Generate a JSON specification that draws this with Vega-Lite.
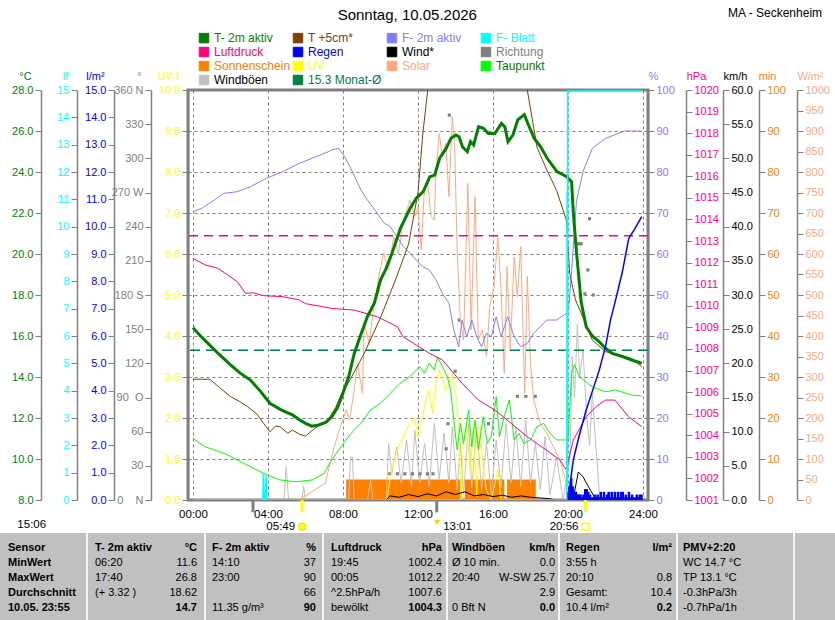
{
  "$schema": "https://vega.github.io/schema/vega-lite/v6.json",
  "width": 460,
  "height": 410,
  "autosize": {"type": "none"},
  "padding": {"left": 188, "top": 90, "right": 187, "bottom": 120},
  "background": "white",
  "config": {
    "view": {"stroke": "#808080", "strokeWidth": 3},
    "font": "Liberation Sans",
    "axis": {"labelFont": "Liberation Sans", "labelFontSize": 11, "titleFont": "Liberation Sans", "titleFontSize": 11, "titleFontWeight": "normal", "domainColor": "#808080", "domainWidth": 1.5, "tickColor": "#808080", "tickSize": 6, "labelPadding": 2, "grid": false, "titleAngle": 0, "titleAlign": "center", "titleBaseline": "alphabetic", "titleY": -11, "labelOverlap": false, "labelBound": false, "labelFlush": false}
  },
  "datasets": {
    "t2m": [{"h":0,"v":16.4},{"h":0.4,"v":16.0},{"h":0.8,"v":15.64},{"h":1.4,"v":15.1},{"h":2.0,"v":14.59},{"h":2.5,"v":14.2},{"h":3.06,"v":13.85},{"h":3.6,"v":13.3},{"h":4.1,"v":12.72},{"h":4.7,"v":12.4},{"h":5.3,"v":12.15},{"h":5.7,"v":11.9},{"h":6.0,"v":11.74},{"h":6.33,"v":11.6},{"h":6.7,"v":11.66},{"h":7.1,"v":11.8},{"h":7.4,"v":12.06},{"h":7.7,"v":12.5},{"h":7.93,"v":13.04},{"h":8.3,"v":14.0},{"h":8.6,"v":15.15},{"h":9.0,"v":16.2},{"h":9.3,"v":16.94},{"h":9.67,"v":17.6},{"h":10.0,"v":18.73},{"h":10.3,"v":19.3},{"h":10.6,"v":20.0},{"h":11.06,"v":21.25},{"h":11.3,"v":21.7},{"h":11.58,"v":22.23},{"h":11.91,"v":22.72},{"h":12.28,"v":23.04},{"h":12.63,"v":23.77},{"h":12.89,"v":23.85},{"h":13.15,"v":24.67},{"h":13.5,"v":25.15},{"h":13.76,"v":25.64},{"h":14.02,"v":25.8},{"h":14.19,"v":25.72},{"h":14.37,"v":25.23},{"h":14.63,"v":24.99},{"h":14.8,"v":25.48},{"h":14.97,"v":25.32},{"h":15.23,"v":26.21},{"h":15.49,"v":26.13},{"h":15.75,"v":25.88},{"h":16.1,"v":25.88},{"h":16.45,"v":26.37},{"h":16.63,"v":26.21},{"h":16.8,"v":25.48},{"h":17.06,"v":25.8},{"h":17.32,"v":26.54},{"h":17.67,"v":26.8},{"h":17.93,"v":26.21},{"h":18.2,"v":25.64},{"h":18.54,"v":25.23},{"h":18.89,"v":24.67},{"h":19.41,"v":24.02},{"h":19.93,"v":23.77},{"h":20.19,"v":23.53},{"h":20.28,"v":22.06},{"h":20.45,"v":20.11},{"h":20.7,"v":17.67},{"h":20.97,"v":16.45},{"h":21.3,"v":16.0},{"h":21.67,"v":15.72},{"h":22.0,"v":15.4},{"h":22.36,"v":15.15},{"h":22.9,"v":15.0},{"h":23.4,"v":14.83},{"h":23.93,"v":14.67}],
    "t5": [{"h":0,"v":13.89},{"h":0.9,"v":13.89},{"h":1.4,"v":13.5},{"h":2.0,"v":13.04},{"h":2.5,"v":12.8},{"h":2.9,"v":12.56},{"h":3.4,"v":12.2},{"h":3.76,"v":11.74},{"h":4.1,"v":11.33},{"h":4.4,"v":11.6},{"h":4.63,"v":11.58},{"h":5.06,"v":11.25},{"h":5.3,"v":11.41},{"h":5.7,"v":11.2},{"h":6.0,"v":11.12},{"h":6.5,"v":11.5},{"h":7.2,"v":11.9},{"h":7.6,"v":12.5},{"h":7.93,"v":13.2},{"h":8.4,"v":13.9},{"h":9.13,"v":15.15},{"h":10.0,"v":16.9},{"h":10.87,"v":18.9},{"h":11.5,"v":20.5},{"h":12.0,"v":23.0},{"h":12.26,"v":25.9},{"h":12.52,"v":28.0},{"h":12.8,"v":29.5},{"h":13.5,"v":31.5},{"h":15.0,"v":32.5},{"h":16.5,"v":31.5},{"h":17.5,"v":29.5},{"h":17.83,"v":28.0},{"h":18.35,"v":25.2},{"h":18.87,"v":24.1},{"h":19.39,"v":23.1},{"h":19.91,"v":21.66},{"h":20.09,"v":19.05},{"h":20.4,"v":17.76},{"h":20.8,"v":16.9},{"h":21.3,"v":15.8},{"h":22.0,"v":15.24},{"h":22.5,"v":15.1},{"h":23.0,"v":15.0},{"h":23.4,"v":14.9},{"h":23.93,"v":14.5}],
    "rh": [{"h":0,"v":70.3},{"h":0.45,"v":71.1},{"h":1.15,"v":73.2},{"h":1.67,"v":74.8},{"h":2.36,"v":75.2},{"h":3.06,"v":76.4},{"h":3.93,"v":78.5},{"h":4.8,"v":80.1},{"h":5.67,"v":82.1},{"h":6.54,"v":83.7},{"h":7.24,"v":85.0},{"h":7.39,"v":85.4},{"h":7.76,"v":85.8},{"h":8.09,"v":83.7},{"h":8.4,"v":81.0},{"h":8.96,"v":75.6},{"h":9.3,"v":73.2},{"h":9.83,"v":69.9},{"h":10.2,"v":67.5},{"h":10.52,"v":66.7},{"h":10.87,"v":64.2},{"h":11.22,"v":61.8},{"h":11.57,"v":60.2},{"h":11.91,"v":58.5},{"h":12.26,"v":56.9},{"h":12.6,"v":56.1},{"h":12.96,"v":53.7},{"h":13.3,"v":50.4},{"h":13.65,"v":48.0},{"h":13.91,"v":41.5},{"h":14.17,"v":37.4},{"h":14.35,"v":43.9},{"h":14.6,"v":39.8},{"h":14.87,"v":43.9},{"h":15.13,"v":39.8},{"h":15.39,"v":37.4},{"h":15.65,"v":40.7},{"h":15.91,"v":39.8},{"h":16.17,"v":44.7},{"h":16.43,"v":39.8},{"h":16.78,"v":44.7},{"h":17.13,"v":39.8},{"h":17.48,"v":37.4},{"h":17.83,"v":38.2},{"h":18.17,"v":40.7},{"h":18.52,"v":42.3},{"h":18.87,"v":43.9},{"h":19.39,"v":43.9},{"h":19.91,"v":45.5},{"h":20.03,"v":46.3},{"h":20.19,"v":55.7},{"h":20.45,"v":72.8},{"h":20.8,"v":80.1},{"h":21.3,"v":85.8},{"h":22.0,"v":88.2},{"h":23.0,"v":90.0},{"h":23.93,"v":90.0}],
    "p": [{"h":0,"v":1012.2},{"h":0.63,"v":1011.9},{"h":1.32,"v":1011.74},{"h":1.84,"v":1011.43},{"h":2.36,"v":1011.12},{"h":2.8,"v":1010.58},{"h":3.23,"v":1010.6},{"h":3.76,"v":1010.47},{"h":4.8,"v":1010.42},{"h":5.67,"v":1010.27},{"h":6.0,"v":1010.1},{"h":6.9,"v":1009.96},{"h":7.39,"v":1009.88},{"h":8.6,"v":1009.8},{"h":9.83,"v":1009.49},{"h":10.9,"v":1009.03},{"h":11.2,"v":1008.57},{"h":11.76,"v":1008.26},{"h":12.6,"v":1007.8},{"h":13.3,"v":1007.49},{"h":14.35,"v":1006.41},{"h":15.23,"v":1005.63},{"h":16.09,"v":1005.17},{"h":16.97,"v":1004.55},{"h":17.83,"v":1003.93},{"h":18.87,"v":1003.3},{"h":19.57,"v":1002.85},{"h":19.91,"v":1002.4},{"h":20.28,"v":1003.78},{"h":20.97,"v":1004.86},{"h":21.5,"v":1005.33},{"h":22.0,"v":1005.63},{"h":22.5,"v":1005.63},{"h":23.23,"v":1004.86},{"h":23.93,"v":1004.4}],
    "dew": [{"h":0,"v":11.0},{"h":0.63,"v":10.6},{"h":1.67,"v":10.28},{"h":2.7,"v":9.79},{"h":3.76,"v":9.3},{"h":4.63,"v":8.98},{"h":5.5,"v":8.89},{"h":6.37,"v":8.98},{"h":7.0,"v":9.3},{"h":7.39,"v":9.95},{"h":7.9,"v":10.6},{"h":8.43,"v":11.25},{"h":8.96,"v":11.74},{"h":9.48,"v":12.39},{"h":10.0,"v":12.72},{"h":10.52,"v":13.2},{"h":11.04,"v":13.69},{"h":11.57,"v":14.02},{"h":12.09,"v":14.5},{"h":12.35,"v":14.18},{"h":12.6,"v":14.67},{"h":12.87,"v":14.34},{"h":13.04,"v":14.99},{"h":13.3,"v":14.5},{"h":13.56,"v":14.02},{"h":13.74,"v":13.37},{"h":13.91,"v":11.9},{"h":14.09,"v":10.44},{"h":14.26,"v":11.74},{"h":14.43,"v":10.76},{"h":14.7,"v":12.39},{"h":14.87,"v":10.6},{"h":15.04,"v":11.9},{"h":15.22,"v":10.44},{"h":15.48,"v":12.07},{"h":15.7,"v":10.76},{"h":15.91,"v":11.1},{"h":16.17,"v":13.04},{"h":16.35,"v":11.1},{"h":16.6,"v":12.07},{"h":16.87,"v":12.88},{"h":17.13,"v":10.93},{"h":17.39,"v":11.25},{"h":17.65,"v":10.76},{"h":18.0,"v":10.93},{"h":18.35,"v":11.58},{"h":18.7,"v":11.74},{"h":19.04,"v":11.25},{"h":19.4,"v":10.93},{"h":19.74,"v":10.93},{"h":20.0,"v":10.93},{"h":20.19,"v":14.18},{"h":20.35,"v":14.6},{"h":20.63,"v":14.0},{"h":21.33,"v":13.5},{"h":22.0,"v":13.28},{"h":22.54,"v":13.37},{"h":23.4,"v":13.12},{"h":23.93,"v":13.07}],
    "solar": [{"h":0,"v":0},{"h":5.6,"v":0},{"h":6.2,"v":16},{"h":7.06,"v":41},{"h":7.39,"v":106},{"h":7.74,"v":163},{"h":8.17,"v":220},{"h":8.35,"v":195},{"h":8.52,"v":244},{"h":8.78,"v":333},{"h":9.04,"v":260},{"h":9.13,"v":431},{"h":9.39,"v":382},{"h":9.65,"v":472},{"h":9.91,"v":545},{"h":10.17,"v":602},{"h":10.43,"v":561},{"h":10.7,"v":642},{"h":10.96,"v":600},{"h":11.2,"v":675},{"h":11.57,"v":732},{"h":11.83,"v":691},{"h":12.0,"v":715},{"h":12.17,"v":610},{"h":12.35,"v":764},{"h":12.52,"v":772},{"h":12.7,"v":691},{"h":12.87,"v":683},{"h":12.96,"v":797},{"h":13.13,"v":894},{"h":13.3,"v":837},{"h":13.48,"v":870},{"h":13.65,"v":740},{"h":13.83,"v":935},{"h":13.96,"v":854},{"h":14.09,"v":610},{"h":14.26,"v":439},{"h":14.43,"v":390},{"h":14.66,"v":772},{"h":14.83,"v":415},{"h":15.04,"v":740},{"h":15.22,"v":390},{"h":15.43,"v":415},{"h":15.65,"v":350},{"h":15.83,"v":472},{"h":16.05,"v":520},{"h":16.26,"v":642},{"h":16.43,"v":512},{"h":16.6,"v":309},{"h":16.75,"v":569},{"h":16.92,"v":366},{"h":17.13,"v":593},{"h":17.3,"v":496},{"h":17.48,"v":618},{"h":17.69,"v":260},{"h":17.83,"v":545},{"h":18.0,"v":333},{"h":18.17,"v":244},{"h":18.52,"v":187},{"h":18.87,"v":163},{"h":19.22,"v":130},{"h":19.57,"v":98},{"h":19.91,"v":41},{"h":20.03,"v":0},{"h":24,"v":0}],
    "uv": [{"h":0,"v":0},{"h":10.35,"v":0},{"h":10.52,"v":0.57},{"h":10.78,"v":1.06},{"h":11.04,"v":1.38},{"h":11.3,"v":1.63},{"h":11.57,"v":1.87},{"h":11.83,"v":2.0},{"h":12.0,"v":1.54},{"h":12.17,"v":1.87},{"h":12.43,"v":2.44},{"h":12.6,"v":2.68},{"h":12.78,"v":2.11},{"h":12.96,"v":2.85},{"h":13.13,"v":3.17},{"h":13.3,"v":3.0},{"h":13.48,"v":2.68},{"h":13.65,"v":2.85},{"h":13.83,"v":3.09},{"h":14.0,"v":2.68},{"h":14.17,"v":1.87},{"h":14.29,"v":0.0},{"h":14.43,"v":1.46},{"h":14.6,"v":1.87},{"h":14.78,"v":0.65},{"h":14.96,"v":1.87},{"h":15.13,"v":0.08},{"h":15.3,"v":1.79},{"h":15.48,"v":0.81},{"h":15.65,"v":0.24},{"h":15.91,"v":0.0},{"h":16.26,"v":0.73},{"h":16.43,"v":0},{"h":24,"v":0}],
    "gust": [{"h":0,"v":0},{"h":4.85,"v":0},{"h":4.97,"v":4.9},{"h":5.1,"v":0},{"h":5.8,"v":0},{"h":5.9,"v":2.0},{"h":6.0,"v":0},{"h":8.3,"v":0},{"h":8.4,"v":6.3},{"h":8.5,"v":6.3},{"h":8.6,"v":0},{"h":9.3,"v":0},{"h":9.48,"v":2.9},{"h":9.6,"v":0},{"h":10.3,"v":0},{"h":10.43,"v":8.3},{"h":10.6,"v":3.9},{"h":10.87,"v":7.8},{"h":11.1,"v":2.5},{"h":11.39,"v":8.8},{"h":11.65,"v":2.0},{"h":11.83,"v":10.2},{"h":12.09,"v":2.5},{"h":12.35,"v":8.3},{"h":12.6,"v":2.0},{"h":12.87,"v":11.2},{"h":13.13,"v":3.0},{"h":13.39,"v":9.8},{"h":13.65,"v":2.5},{"h":13.83,"v":10.7},{"h":14.09,"v":1.5},{"h":14.26,"v":8.3},{"h":14.43,"v":0.8},{"h":14.7,"v":11.2},{"h":14.87,"v":1.8},{"h":15.13,"v":10.7},{"h":15.39,"v":1.5},{"h":15.65,"v":8.3},{"h":15.91,"v":0.8},{"h":16.17,"v":8.8},{"h":16.43,"v":1.8},{"h":16.7,"v":11.2},{"h":16.96,"v":2.5},{"h":17.22,"v":10.7},{"h":17.48,"v":2.0},{"h":17.74,"v":11.7},{"h":18.0,"v":2.5},{"h":18.26,"v":8.3},{"h":18.52,"v":1.5},{"h":18.78,"v":9.3},{"h":19.04,"v":0.8},{"h":19.39,"v":6.3},{"h":19.74,"v":0},{"h":19.91,"v":2.9},{"h":20.1,"v":5.9},{"h":20.23,"v":21.0},{"h":20.35,"v":15.0},{"h":20.5,"v":25.7},{"h":20.62,"v":18.0},{"h":20.8,"v":22.0},{"h":21.0,"v":12.0},{"h":21.15,"v":8.0},{"h":21.3,"v":15.6},{"h":21.5,"v":7.3},{"h":21.7,"v":0},{"h":24,"v":0}],
    "wind": [{"h":0,"v":0},{"h":10.3,"v":0},{"h":10.5,"v":0.6},{"h":11.0,"v":0.4},{"h":11.5,"v":0.8},{"h":12.0,"v":0.5},{"h":12.5,"v":0.9},{"h":13.0,"v":0.6},{"h":13.5,"v":1.2},{"h":14.0,"v":0.8},{"h":14.5,"v":1.2},{"h":15.0,"v":0.6},{"h":15.5,"v":0.8},{"h":16.0,"v":0.5},{"h":16.5,"v":0.7},{"h":17.0,"v":0.4},{"h":17.5,"v":0.6},{"h":18.0,"v":0.4},{"h":18.5,"v":0.3},{"h":19.0,"v":0.2},{"h":19.3,"v":0},{"h":20.0,"v":0},{"h":20.3,"v":0.5},{"h":20.55,"v":4.1},{"h":20.8,"v":3.4},{"h":21.1,"v":1.9},{"h":21.4,"v":0.5},{"h":21.6,"v":0},{"h":24,"v":0}],
    "rain": [{"h":20.0,"v":0},{"h":20.28,"v":1.46},{"h":20.63,"v":2.44},{"h":20.97,"v":3.29},{"h":21.32,"v":4.02},{"h":21.67,"v":4.76},{"h":22.0,"v":5.61},{"h":22.27,"v":6.59},{"h":22.54,"v":7.32},{"h":22.9,"v":8.35},{"h":23.24,"v":9.57},{"h":23.58,"v":9.94},{"h":23.93,"v":10.37}],
    "rainrate": [{"h":20.0,"v":0.3},{"h":20.08,"v":0.5},{"h":20.17,"v":0.8},{"h":20.25,"v":0.5},{"h":20.33,"v":0.3},{"h":20.42,"v":0.3},{"h":20.5,"v":0.2},{"h":20.58,"v":0.2},{"h":20.67,"v":0.2},{"h":20.75,"v":0.1},{"h":20.83,"v":0.2},{"h":20.92,"v":0.4},{"h":21.0,"v":0.4},{"h":21.08,"v":0.3},{"h":21.17,"v":0.2},{"h":21.25,"v":0.1},{"h":21.33,"v":0.1},{"h":21.42,"v":0.2},{"h":21.5,"v":0.1},{"h":21.58,"v":0.2},{"h":21.67,"v":0.1},{"h":21.75,"v":0.3},{"h":21.83,"v":0.1},{"h":21.92,"v":0.3},{"h":22.0,"v":0.1},{"h":22.08,"v":0.2},{"h":22.17,"v":0.3},{"h":22.25,"v":0.1},{"h":22.33,"v":0.3},{"h":22.42,"v":0.1},{"h":22.5,"v":0.3},{"h":22.58,"v":0.1},{"h":22.67,"v":0.3},{"h":22.75,"v":0.1},{"h":22.83,"v":0.3},{"h":22.92,"v":0.3},{"h":23.0,"v":0.1},{"h":23.08,"v":0.2},{"h":23.17,"v":0.1},{"h":23.25,"v":0.3},{"h":23.33,"v":0.1},{"h":23.42,"v":0.2},{"h":23.5,"v":0.1},{"h":23.58,"v":0.1},{"h":23.67,"v":0.2},{"h":23.75,"v":0.1},{"h":23.83,"v":0.2},{"h":23.92,"v":0.2}],
    "leaf": [{"h":0,"v":0},{"h":3.72,"v":0},{"h":3.76,"v":1.0},{"h":3.8,"v":0},{"h":3.86,"v":0},{"h":3.9,"v":0.9},{"h":3.94,"v":0},{"h":19.93,"v":0},{"h":19.95,"v":11.3},{"h":19.97,"v":0.5},{"h":19.99,"v":15},{"h":24,"v":15}],
    "dir": [{"h":10.5,"v":23},{"h":10.9,"v":23},{"h":11.3,"v":23},{"h":11.7,"v":23},{"h":12.1,"v":23},{"h":12.5,"v":23},{"h":12.8,"v":23},{"h":13.5,"v":45},{"h":13.6,"v":67},{"h":13.67,"v":338},{"h":13.98,"v":113},{"h":14.2,"v":158},{"h":15.76,"v":67},{"h":17.3,"v":91},{"h":17.75,"v":91},{"h":18.25,"v":91},{"h":20.5,"v":225},{"h":20.6,"v":225},{"h":20.7,"v":225},{"h":20.9,"v":181},{"h":21.06,"v":202},{"h":21.15,"v":247},{"h":21.35,"v":180}],
    "sun": [{"start":8.17,"end":14.35,"v":5},{"start":14.5,"end":16.6,"v":5},{"start":16.75,"end":18.28,"v":5}],
    "tleft": [
      {"row":1,"col":0,"t":"Sensor"},{"row":1,"col":1,"t":"T- 2m aktiv"},{"row":1,"col":2,"t":"F- 2m aktiv"},{"row":1,"col":3,"t":"Luftdruck"},{"row":1,"col":4,"t":"Windböen"},{"row":1,"col":5,"t":"Regen"},{"row":1,"col":6,"t":"PMV+2:20"},
      {"row":2,"col":0,"t":"MinWert"},{"row":2,"col":1,"t":"06:20"},{"row":2,"col":2,"t":"14:10"},{"row":2,"col":3,"t":"19:45"},{"row":2,"col":4,"t":"Ø 10 min."},{"row":2,"col":5,"t":"3:55 h"},{"row":2,"col":6,"t":"WC 14.7 °C"},
      {"row":3,"col":0,"t":"MaxWert"},{"row":3,"col":1,"t":"17:40"},{"row":3,"col":2,"t":"23:00"},{"row":3,"col":3,"t":"00:05"},{"row":3,"col":4,"t":"20:40"},{"row":3,"col":5,"t":"20:10"},{"row":3,"col":6,"t":"TP 13.1 °C"},
      {"row":4,"col":0,"t":"Durchschnitt"},{"row":4,"col":1,"t":"(+ 3.32 )"},{"row":4,"col":3,"t":"^2.5hPa/h"},{"row":4,"col":5,"t":"Gesamt:"},{"row":4,"col":6,"t":"-0.3hPa/3h"},
      {"row":5,"col":0,"t":"10.05. 23:55"},{"row":5,"col":2,"t":"11.35 g/m³"},{"row":5,"col":3,"t":"bewölkt"},{"row":5,"col":4,"t":"0 Bft N"},{"row":5,"col":5,"t":"10.4 l/m²"},{"row":5,"col":6,"t":"-0.7hPa/1h"}
    ],
    "tright": [
      {"row":1,"col":1,"t":"°C"},{"row":1,"col":2,"t":"%"},{"row":1,"col":3,"t":"hPa"},{"row":1,"col":4,"t":"km/h"},{"row":1,"col":5,"t":"l/m²"},
      {"row":2,"col":1,"t":"11.6"},{"row":2,"col":2,"t":"37"},{"row":2,"col":3,"t":"1002.4"},{"row":2,"col":4,"t":"0.0"},
      {"row":3,"col":1,"t":"26.8"},{"row":3,"col":2,"t":"90"},{"row":3,"col":3,"t":"1012.2"},{"row":3,"col":4,"t":"W-SW 25.7"},{"row":3,"col":5,"t":"0.8"},
      {"row":4,"col":1,"t":"18.62"},{"row":4,"col":2,"t":"66"},{"row":4,"col":3,"t":"1007.6"},{"row":4,"col":4,"t":"2.9"},{"row":4,"col":5,"t":"10.4"},
      {"row":5,"col":1,"t":"14.7"},{"row":5,"col":2,"t":"90"},{"row":5,"col":3,"t":"1004.3"},{"row":5,"col":4,"t":"0.0"},{"row":5,"col":5,"t":"0.2"}
    ],
    "seps": [{"col":1},{"col":2},{"col":3},{"col":4},{"col":5},{"col":6},{"col":7}]
  },
  "layer": [
    {
      "layer": [
        {
          "data": {"name": "sun"},
          "mark": {"type": "rect", "clip": true},
          "encoding": {
            "x": {"field": "start", "type": "quantitative", "scale": {"domain": [0, 24], "nice": false, "zero": false},
              "axis": {"values": [0,2,4,6,8,10,12,14,16,18,20,22,24], "labelExpr": "(datum.value < 10 ? '0' : '') + datum.value + ':00'", "title": null, "grid": true, "gridDash": [3,3], "gridColor": "#808080", "gridOpacity": 1, "ticks": false, "domain": false, "labelPadding": 8, "labelFontSize": 11.5, "labelColor": "#000000"}},
            "x2": {"field": "end"},
            "y": {"field": "v", "type": "quantitative", "scale": {"domain": [0, 100], "nice": false},
              "axis": {"orient": "right", "offset": 111, "values": [0,10,20,30,40,50,60,70,80,90,100], "format": "d", "labelColor": "#FF8000", "title": "min", "titleColor": "#FF8000", "titleX": 8}},
            "y2": {"datum": 0},
            "color": {"datum": "Sonnenschein",
              "scale": {"domain": ["T- 2m aktiv","T +5cm*","F- 2m aktiv","F- Blatt","Luftdruck","Regen","Wind*","Richtung","Sonnenschein","UV","Solar","Taupunkt","Windböen","15.3 Monat-Ø"],
                        "range": ["#008000","#804000","#8080FF","#00FFFF","#FF0080","#0000FF","#000000","#808080","#FF8000","#FFFF00","#FFA880","#00FF00","#C0C0C0","#008040"]},
              "legend": {"orient": "none", "legendX": 10, "legendY": -58, "direction": "horizontal", "columns": 4, "title": null, "symbolType": "square", "symbolSize": 90, "labelFont": "Liberation Sans", "labelFontSize": 12, "labelOffset": 4, "rowPadding": 0, "columnPadding": 0, "gridAlign": "all", "padding": 0, "labelLimit": 200,
                "encode": {
                  "symbols": {"update": {"shape": {"value": "square"}, "fill": {"signal": "datum.label === '15.3 Monat-Ø' ? 'transparent' : scale('color', datum.value)"}, "stroke": {"signal": "datum.label === '15.3 Monat-Ø' ? '#008040' : '#000000'"}, "strokeWidth": {"value": 1}, "strokeDash": {"value": []}, "opacity": {"value": 1}, "fillOpacity": {"value": 1}}},
                  "labels": {"update": {"fill": {"signal": "(datum.label === 'Wind*' || datum.label === 'Windböen') ? '#000000' : (datum.label === 'Taupunkt' ? '#008000' : scale('color', datum.value))"}}}
                }}}
          }
        },
        {
          "data": {"name": "gust"},
          "mark": {"type": "line", "strokeWidth": 1, "clip": true},
          "encoding": {
            "x": {"field": "h", "type": "quantitative", "scale": {"domain": [0, 24], "nice": false, "zero": false}},
            "y": {"field": "v", "type": "quantitative", "scale": {"domain": [0, 60], "nice": false},
              "axis": {"orient": "right", "offset": 75, "values": [0,5,10,15,20,25,30,35,40,45,50,55,60], "format": ".1f", "labelColor": "#000000", "title": "km/h", "titleColor": "#000000", "titleX": 12}},
            "color": {"datum": "Windböen"}
          }
        },
        {
          "data": {"name": "dir"},
          "mark": {"type": "square", "size": 10, "filled": true, "opacity": 1},
          "encoding": {
            "x": {"field": "h", "type": "quantitative", "scale": {"domain": [0, 24], "nice": false, "zero": false}},
            "y": {"field": "v", "type": "quantitative", "scale": {"domain": [0, 360], "nice": false},
              "axis": {"orient": "left", "offset": 37, "values": [0,30,60,90,120,150,180,210,240,270,300,330,360], "labelExpr": "datum.value == 360 ? '360 N' : datum.value == 270 ? '270 W' : datum.value == 180 ? '180 S' : datum.value == 90 ? '90\u00a0\u00a0O' : datum.value == 0 ? '0\u00a0\u00a0\u00a0\u00a0N' : datum.label", "labelColor": "#808080", "title": "°", "titleColor": "#808080", "titleX": -12}},
            "color": {"datum": "Richtung"}
          }
        },
        {
          "data": {"name": "solar"},
          "mark": {"type": "line", "strokeWidth": 1, "clip": true},
          "encoding": {
            "x": {"field": "h", "type": "quantitative", "scale": {"domain": [0, 24], "nice": false, "zero": false}},
            "y": {"field": "v", "type": "quantitative", "scale": {"domain": [0, 1000], "nice": false},
              "axis": {"orient": "right", "offset": 149, "values": [0,50,100,150,200,250,300,350,400,450,500,550,600,650,700,750,800,850,900,950,1000], "format": "d", "labelColor": "#FFA880", "title": "W/m²", "titleColor": "#FFA880", "titleX": 13}},
            "color": {"datum": "Solar"}
          }
        },
        {
          "data": {"name": "uv"},
          "mark": {"type": "line", "strokeWidth": 1, "clip": true},
          "encoding": {
            "x": {"field": "h", "type": "quantitative", "scale": {"domain": [0, 24], "nice": false, "zero": false}},
            "y": {"field": "v", "type": "quantitative", "scale": {"domain": [0, 10], "nice": false},
              "axis": {"orient": "left", "offset": 0, "values": [0,1,2,3,4,5,6,7,8,9,10], "format": ".1f", "labelColor": "#FFFF00", "title": "UV-I", "titleColor": "#FFFF00", "titleX": -20, "grid": true, "gridDash": [3,3], "gridColor": "#808080", "gridOpacity": 1}},
            "color": {"datum": "UV"}
          }
        },
        {
          "data": {"name": "dew"},
          "mark": {"type": "line", "strokeWidth": 1, "clip": true},
          "encoding": {
            "x": {"field": "h", "type": "quantitative", "scale": {"domain": [0, 24], "nice": false, "zero": false}},
            "y": {"field": "v", "type": "quantitative", "scale": {"domain": [8, 28], "nice": false, "zero": false}, "axis": null},
            "color": {"datum": "Taupunkt"}
          }
        },
        {
          "data": {"name": "rh"},
          "mark": {"type": "line", "strokeWidth": 1, "clip": true},
          "encoding": {
            "x": {"field": "h", "type": "quantitative", "scale": {"domain": [0, 24], "nice": false, "zero": false}},
            "y": {"field": "v", "type": "quantitative", "scale": {"domain": [0, 100], "nice": false},
              "axis": {"orient": "right", "offset": 0, "values": [0,10,20,30,40,50,60,70,80,90,100], "format": "d", "labelColor": "#8080FF", "title": "%", "titleColor": "#8080FF", "titleX": 5}},
            "color": {"datum": "F- 2m aktiv"}
          }
        },
        {
          "data": {"name": "p"},
          "mark": {"type": "line", "strokeWidth": 1, "clip": true},
          "encoding": {
            "x": {"field": "h", "type": "quantitative", "scale": {"domain": [0, 24], "nice": false, "zero": false}},
            "y": {"field": "v", "type": "quantitative", "scale": {"domain": [1001, 1020], "nice": false, "zero": false},
              "axis": {"orient": "right", "offset": 38, "values": [1001,1002,1003,1004,1005,1006,1007,1008,1009,1010,1011,1012,1013,1014,1015,1016,1017,1018,1019,1020], "format": "d", "labelColor": "#FF0080", "title": "hPa", "titleColor": "#FF0080", "titleX": 10}},
            "color": {"datum": "Luftdruck"}
          }
        },
        {
          "data": {"values": [{}]},
          "mark": {"type": "rule", "stroke": "#FF0080", "strokeWidth": 1.5, "strokeDash": [9, 6]},
          "encoding": {
            "y": {"datum": 1013.25, "type": "quantitative", "scale": {"domain": [1001, 1020], "nice": false, "zero": false}, "axis": null}
          }
        },
        {
          "data": {"values": [{}]},
          "mark": {"type": "rule", "strokeWidth": 1.5, "strokeDash": [10, 6]},
          "encoding": {
            "y": {"datum": 15.3, "type": "quantitative", "scale": {"domain": [8, 28], "nice": false, "zero": false}, "axis": null},
            "color": {"datum": "15.3 Monat-Ø"}
          }
        },
        {
          "data": {"name": "t5"},
          "mark": {"type": "line", "strokeWidth": 1, "clip": true},
          "encoding": {
            "x": {"field": "h", "type": "quantitative", "scale": {"domain": [0, 24], "nice": false, "zero": false}},
            "y": {"field": "v", "type": "quantitative", "scale": {"domain": [8, 28], "nice": false, "zero": false}, "axis": null},
            "color": {"datum": "T +5cm*"}
          }
        },
        {
          "data": {"name": "t2m"},
          "mark": {"type": "line", "strokeWidth": 3, "clip": true},
          "encoding": {
            "x": {"field": "h", "type": "quantitative", "scale": {"domain": [0, 24], "nice": false, "zero": false}},
            "y": {"field": "v", "type": "quantitative", "scale": {"domain": [8, 28], "nice": false, "zero": false},
              "axis": {"orient": "left", "offset": 147, "values": [8,10,12,14,16,18,20,22,24,26,28], "format": ".1f", "labelColor": "#008000", "title": "°C", "titleColor": "#008000", "titleX": -16}},
            "color": {"datum": "T- 2m aktiv"}
          }
        },
        {
          "data": {"name": "wind"},
          "mark": {"type": "line", "strokeWidth": 1, "clip": true},
          "encoding": {
            "x": {"field": "h", "type": "quantitative", "scale": {"domain": [0, 24], "nice": false, "zero": false}},
            "y": {"field": "v", "type": "quantitative", "scale": {"domain": [0, 60], "nice": false}, "axis": null},
            "color": {"datum": "Wind*"}
          }
        },
        {
          "data": {"name": "rainrate"},
          "mark": {"type": "bar", "width": 2.5},
          "encoding": {
            "x": {"field": "h", "type": "quantitative", "scale": {"domain": [0, 24], "nice": false, "zero": false}},
            "y": {"field": "v", "type": "quantitative", "scale": {"domain": [0, 15], "nice": false}, "axis": null},
            "color": {"datum": "Regen"}
          }
        },
        {
          "data": {"name": "rain"},
          "mark": {"type": "line", "strokeWidth": 1.5, "clip": true},
          "encoding": {
            "x": {"field": "h", "type": "quantitative", "scale": {"domain": [0, 24], "nice": false, "zero": false}},
            "y": {"field": "v", "type": "quantitative", "scale": {"domain": [0, 15], "nice": false},
              "axis": {"orient": "left", "offset": 74, "values": [0,1,2,3,4,5,6,7,8,9,10,11,12,13,14,15], "format": ".1f", "labelColor": "#0000FF", "title": "l/m²", "titleColor": "#0000FF", "titleX": -19}},
            "color": {"datum": "Regen"}
          }
        },
        {
          "data": {"name": "leaf"},
          "mark": {"type": "line", "strokeWidth": 1.5, "clip": true},
          "encoding": {
            "x": {"field": "h", "type": "quantitative", "scale": {"domain": [0, 24], "nice": false, "zero": false}},
            "y": {"field": "v", "type": "quantitative", "scale": {"domain": [0, 15], "nice": false},
              "axis": {"orient": "left", "offset": 111, "values": [0,1,2,3,4,5,6,7,8,9,10,11,12,13,14,15], "format": "d", "labelColor": "#00FFFF", "title": "lf", "titleColor": "#00FFFF", "titleX": -12}},
            "color": {"datum": "F- Blatt"}
          }
        },
        {
          "data": {"values": [{"h": 3.2}, {"h": 13.0}]},
          "mark": {"type": "rule", "stroke": "#808080", "strokeWidth": 3},
          "encoding": {
            "x": {"field": "h", "type": "quantitative", "scale": {"domain": [0, 24], "nice": false, "zero": false}},
            "y": {"datum": 0, "type": "quantitative", "scale": {"domain": [0, 10], "nice": false}, "axis": null},
            "y2": {"datum": -0.3}
          }
        },
        {
          "data": {"values": [{"h": 5.82}, {"h": 20.93}]},
          "mark": {"type": "rule", "stroke": "#FFFF00", "strokeWidth": 3},
          "encoding": {
            "x": {"field": "h", "type": "quantitative", "scale": {"domain": [0, 24], "nice": false, "zero": false}},
            "y": {"datum": 0, "type": "quantitative", "scale": {"domain": [0, 10], "nice": false}, "axis": null},
            "y2": {"datum": -0.3}
          }
        },
        {
          "data": {"values": [{"h": 5.82}]},
          "mark": {"type": "circle", "size": 55, "fill": "#FFFF00", "stroke": "#E0E000", "strokeWidth": 1, "opacity": 1},
          "encoding": {
            "x": {"field": "h", "type": "quantitative", "scale": {"domain": [0, 24], "nice": false, "zero": false}},
            "y": {"datum": -0.65, "type": "quantitative", "scale": {"domain": [0, 10], "nice": false}, "axis": null}
          }
        },
        {
          "data": {"values": [{"h": 13.02}]},
          "mark": {"type": "point", "shape": "triangle-down", "size": 40, "filled": true, "color": "#E0E000", "opacity": 1},
          "encoding": {
            "x": {"field": "h", "type": "quantitative", "scale": {"domain": [0, 24], "nice": false, "zero": false}},
            "y": {"datum": -0.55, "type": "quantitative", "scale": {"domain": [0, 10], "nice": false}, "axis": null}
          }
        },
        {
          "data": {"values": [{"h": 20.93}]},
          "mark": {"type": "square", "size": 45, "filled": false, "stroke": "#FFFF00", "strokeWidth": 1.5, "opacity": 1},
          "encoding": {
            "x": {"field": "h", "type": "quantitative", "scale": {"domain": [0, 24], "nice": false, "zero": false}},
            "y": {"datum": -0.65, "type": "quantitative", "scale": {"domain": [0, 10], "nice": false}, "axis": null}
          }
        },
        {
          "data": {"values": [{"h": 5.82, "t": "05:49"}, {"h": 20.93, "t": "20:56"}]},
          "mark": {"type": "text", "align": "right", "baseline": "middle", "dx": -7, "fontSize": 11.5, "font": "Liberation Sans", "color": "#000000"},
          "encoding": {
            "x": {"field": "h", "type": "quantitative", "scale": {"domain": [0, 24], "nice": false, "zero": false}},
            "y": {"datum": -0.65, "type": "quantitative", "scale": {"domain": [0, 10], "nice": false}, "axis": null},
            "text": {"field": "t"}
          }
        },
        {
          "data": {"values": [{"h": 13.02, "t": "13:01"}]},
          "mark": {"type": "text", "align": "left", "baseline": "middle", "dx": 6, "fontSize": 11.5, "font": "Liberation Sans", "color": "#000000"},
          "encoding": {
            "x": {"field": "h", "type": "quantitative", "scale": {"domain": [0, 24], "nice": false, "zero": false}},
            "y": {"datum": -0.65, "type": "quantitative", "scale": {"domain": [0, 10], "nice": false}, "axis": null},
            "text": {"field": "t"}
          }
        },
        {
          "data": {"values": [{"h": -8.6, "t": "15:06"}]},
          "mark": {"type": "text", "align": "center", "baseline": "middle", "fontSize": 11.5, "font": "Liberation Sans", "color": "#000000"},
          "encoding": {
            "x": {"field": "h", "type": "quantitative", "scale": {"domain": [0, 24], "nice": false, "zero": false}},
            "y": {"datum": -0.6, "type": "quantitative", "scale": {"domain": [0, 10], "nice": false}, "axis": null},
            "text": {"field": "t"}
          }
        },
        {
          "data": {"values": [{"h": 11.43, "t": "Sonntag, 10.05.2026"}]},
          "mark": {"type": "text", "align": "center", "baseline": "middle", "fontSize": 15, "font": "Liberation Sans", "color": "#000000"},
          "encoding": {
            "x": {"field": "h", "type": "quantitative", "scale": {"domain": [0, 24], "nice": false, "zero": false}},
            "y": {"datum": 11.83, "type": "quantitative", "scale": {"domain": [0, 10], "nice": false}, "axis": null},
            "text": {"field": "t"}
          }
        },
        {
          "data": {"values": [{"h": 33.55, "t": "MA - Seckenheim"}]},
          "mark": {"type": "text", "align": "right", "baseline": "middle", "fontSize": 12, "font": "Liberation Sans", "color": "#000000"},
          "encoding": {
            "x": {"field": "h", "type": "quantitative", "scale": {"domain": [0, 24], "nice": false, "zero": false}},
            "y": {"datum": 11.88, "type": "quantitative", "scale": {"domain": [0, 10], "nice": false}, "axis": null},
            "text": {"field": "t"}
          }
        }
      ],
      "resolve": {"scale": {"y": "independent"}}
    },
    {
      "layer": [
        {
          "data": {"values": [{}]},
          "mark": {"type": "rect", "fill": "#C0C0C0"},
          "encoding": {
            "x": {"datum": 0, "type": "quantitative", "scale": {"domain": [0, 1], "range": [-188, 647], "nice": false, "zero": false}, "axis": null},
            "x2": {"datum": 1},
            "y": {"datum": 0, "type": "quantitative", "scale": {"domain": [0, 5.8], "range": [443, 530], "nice": false, "zero": false}, "axis": null},
            "y2": {"datum": 5.8}
          }
        },
        {
          "data": {"name": "seps"},
          "mark": {"type": "rule", "stroke": "#F4F4F4", "strokeWidth": 2},
          "encoding": {
            "x": {"field": "col", "type": "quantitative", "scale": {"domain": [1,2,3,4,5,6,7], "range": [-101,17,135,259,371,489,606], "nice": false, "zero": false}, "axis": null},
            "y": {"datum": 0, "type": "quantitative", "scale": {"domain": [0, 5.8], "range": [443, 530], "nice": false, "zero": false}, "axis": null},
            "y2": {"datum": 5.8}
          }
        },
        {
          "data": {"name": "tleft"},
          "transform": [{"filter": "datum.row == 1 || datum.col == 0"}],
          "mark": {"type": "text", "align": "left", "baseline": "middle", "font": "Liberation Sans", "fontSize": 11, "fontWeight": "bold", "color": "#000000"},
          "encoding": {
            "x": {"field": "col", "type": "quantitative", "scale": {"domain": [0,1,2,3,4,5,6], "range": [-180,-93,24,143,264,378,495], "nice": false, "zero": false}, "axis": null},
            "y": {"field": "row", "type": "quantitative", "scale": {"domain": [0, 5.8], "range": [443, 530], "nice": false, "zero": false}, "axis": null},
            "text": {"field": "t"}
          }
        },
        {
          "data": {"name": "tleft"},
          "transform": [{"filter": "datum.row != 1 && datum.col != 0"}],
          "mark": {"type": "text", "align": "left", "baseline": "middle", "font": "Liberation Sans", "fontSize": 11, "color": "#000000"},
          "encoding": {
            "x": {"field": "col", "type": "quantitative", "scale": {"domain": [0,1,2,3,4,5,6], "range": [-180,-93,24,143,264,378,495], "nice": false, "zero": false}, "axis": null},
            "y": {"field": "row", "type": "quantitative", "scale": {"domain": [0, 5.8], "range": [443, 530], "nice": false, "zero": false}, "axis": null},
            "text": {"field": "t"}
          }
        },
        {
          "data": {"name": "tright"},
          "transform": [{"filter": "datum.row == 1 || datum.row == 5"}],
          "mark": {"type": "text", "align": "right", "baseline": "middle", "font": "Liberation Sans", "fontSize": 11, "fontWeight": "bold", "color": "#000000"},
          "encoding": {
            "x": {"field": "col", "type": "quantitative", "scale": {"domain": [1,2,3,4,5], "range": [9,128,254,367,484], "nice": false, "zero": false}, "axis": null},
            "y": {"field": "row", "type": "quantitative", "scale": {"domain": [0, 5.8], "range": [443, 530], "nice": false, "zero": false}, "axis": null},
            "text": {"field": "t"}
          }
        },
        {
          "data": {"name": "tright"},
          "transform": [{"filter": "datum.row != 1 && datum.row != 5"}],
          "mark": {"type": "text", "align": "right", "baseline": "middle", "font": "Liberation Sans", "fontSize": 11, "color": "#000000"},
          "encoding": {
            "x": {"field": "col", "type": "quantitative", "scale": {"domain": [1,2,3,4,5], "range": [9,128,254,367,484], "nice": false, "zero": false}, "axis": null},
            "y": {"field": "row", "type": "quantitative", "scale": {"domain": [0, 5.8], "range": [443, 530], "nice": false, "zero": false}, "axis": null},
            "text": {"field": "t"}
          }
        }
      ],
      "resolve": {"scale": {"x": "independent"}}
    }
  ],
  "resolve": {"scale": {"x": "independent", "y": "independent"}}
}
